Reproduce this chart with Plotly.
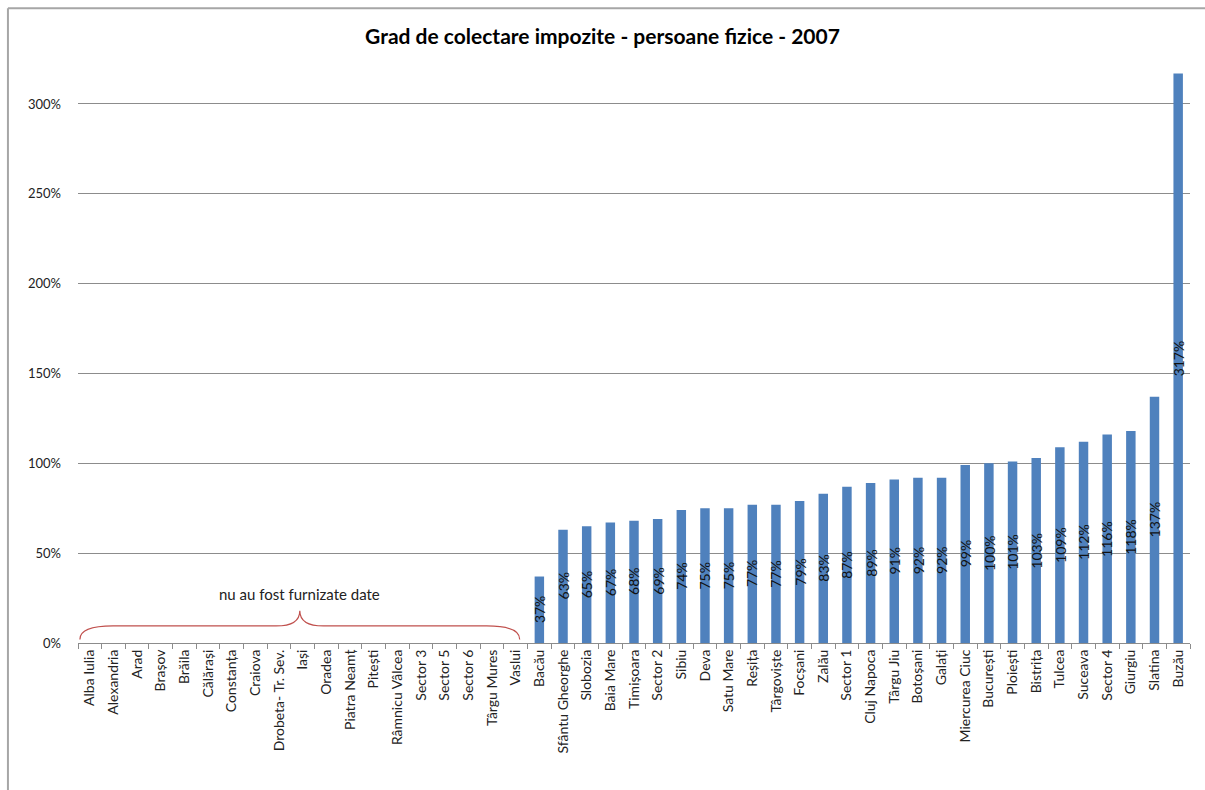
import plotly.graph_objects as go

# Localities with no data reported (drawn as empty categories)
no_data = [
    "Alba Iulia", "Alexandria", "Arad", "Brașov", "Brăila", "Călărași",
    "Constanța", "Craiova", "Drobeta- Tr. Sev.", "Iași", "Oradea",
    "Piatra Neamț", "Pitești", "Râmnicu Vâlcea", "Sector 3", "Sector 5",
    "Sector 6", "Târgu Mures", "Vaslui",
]

# Localities with collection rates (%)
with_data = [
    "Bacău", "Sfântu Gheorghe", "Slobozia", "Baia Mare", "Timișoara",
    "Sector 2", "Sibiu", "Deva", "Satu Mare", "Reșița", "Târgoviște",
    "Focșani", "Zalău", "Sector 1", "Cluj Napoca", "Târgu Jiu", "Botoșani",
    "Galați", "Miercurea Ciuc", "București", "Ploiești", "Bistrița",
    "Tulcea", "Suceava", "Sector 4", "Giurgiu", "Slatina", "Buzău",
]
rates = [
    37, 63, 65, 67, 68, 69, 74, 75, 75, 77, 77, 79, 83, 87, 89, 91, 92, 92,
    99, 100, 101, 103, 109, 112, 116, 118, 137, 317,
]

y_ticks = [0, 50, 100, 150, 200, 250, 300]
y_tick_text = ["0%", "50%", "100%", "150%", "200%", "250%", "300%"]

FONT = "Lato"
BAR_COLOR = "#4F81BD"
GRID_COLOR = "#8C8C8C"

categories = no_data + with_data

fig = go.Figure()
fig.add_trace(go.Bar(
    x=with_data,
    y=rates,
    marker=dict(color=BAR_COLOR, line=dict(width=0)),
    hoverinfo="x+y",
))

# Value labels, rotated and centred inside each bar
for name, v in zip(with_data, rates):
    fig.add_annotation(
        x=name, y=v / 2, xref="x", yref="y",
        text=f"{v}%", textangle=-90, showarrow=False,
        font=dict(family=FONT, size=14, color="#111111"),
    )

# Curly brace spanning the categories without data
n = len(no_data)
left, right = -0.42, n - 0.83
mid = (left + right) / 2
y_end, y_flat, y_peak = 2, 9.5, 18
brace = (
    f"M {left},{y_end} Q {left},{y_flat} {left + 1.4},{y_flat} "
    f"L {mid - 1.0},{y_flat} Q {mid},{y_flat} {mid},{y_peak} "
    f"Q {mid},{y_flat} {mid + 1.0},{y_flat} "
    f"L {right - 1.4},{y_flat} Q {right},{y_flat} {right},{y_end}"
)
fig.add_shape(type="path", path=brace, xref="x", yref="y",
              line=dict(color="#C0504D", width=1.2))
fig.add_annotation(
    x=mid, y=27, xref="x", yref="y", text="nu au fost furnizate date",
    showarrow=False, font=dict(family=FONT, size=15, color="#222222"),
)

# Chart frame (top and left edges)
fig.add_shape(type="line", xref="paper", yref="paper",
              x0=-0.063, x1=1.02, y0=1.104, y1=1.104,
              line=dict(color="#A6A6A6", width=2))
fig.add_shape(type="line", xref="paper", yref="paper",
              x0=-0.063, x1=-0.063, y0=1.104, y1=-0.3,
              line=dict(color="#A6A6A6", width=2))

fig.update_layout(
    width=1205, height=790,
    margin=dict(l=78, r=15, t=68, b=147),
    paper_bgcolor="white", plot_bgcolor="white",
    bargap=0.6,
    showlegend=False,
    title=dict(
        text="<b>Grad de colectare impozite - persoane fizice - 2007</b>",
        x=0.5, xanchor="center", y=0.953, yanchor="middle",
        font=dict(family=FONT, size=21, color="#000000"),
    ),
    font=dict(family=FONT, size=13, color="#222222"),
)

fig.update_xaxes(
    type="category", categoryorder="array", categoryarray=categories,
    range=[-0.5, len(categories) - 0.5],
    tickangle=-90, tickfont=dict(family=FONT, size=14, color="#222222"),
    showline=True, linecolor=GRID_COLOR, linewidth=1,
    ticks="outside", tickson="boundaries", ticklen=5, tickcolor=GRID_COLOR,
    showgrid=False, zeroline=False,
)
fig.update_yaxes(
    range=[0, 320], tickmode="array", tickvals=y_ticks, ticktext=y_tick_text,
    tickfont=dict(family=FONT, size=13, color="#222222"),
    showgrid=True, gridcolor=GRID_COLOR, gridwidth=1,
    zeroline=False, showline=False, ticks="", ticklabelstandoff=16,
)

fig.write_html("out.html")
